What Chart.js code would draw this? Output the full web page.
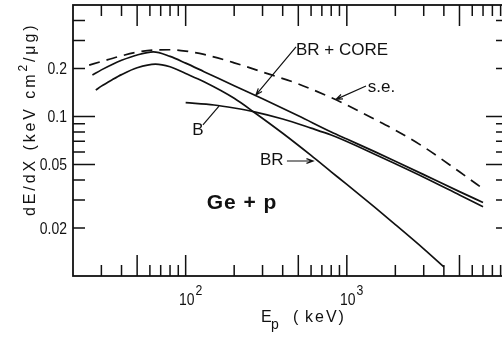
<!DOCTYPE html>
<html>
<head>
<meta charset="utf-8">
<script src="https://cdn.jsdelivr.net/npm/chart.js@4.4.1/dist/chart.umd.min.js"></script>
<style>
  html, body { margin: 0; padding: 0; background: #fff; overflow: hidden; }
  canvas { display: block; }
</style>
</head>
<body>
<canvas id="myChart" width="511" height="337"></canvas>
<script>
// proton energy Ep (keV) and dE/dX (keV cm2/ug) for each curve
const seE = [25.2, 30, 40, 50, 63, 80, 100, 130, 200, 300, 500, 800, 1000, 1500, 2000, 3000, 5000, 7200];
const seS = [0.21, 0.221, 0.24, 0.253, 0.261, 0.262, 0.257, 0.245, 0.217, 0.19, 0.16, 0.1313, 0.118, 0.0957, 0.0821, 0.0644, 0.045, 0.0345];

const brCoreE = [26.4, 30, 35, 40, 50, 63, 80, 100, 130, 200, 300, 500, 800, 1000, 1500, 2000, 3000, 5000, 7000];
const brCoreS = [0.182, 0.196, 0.212, 0.225, 0.243, 0.254, 0.238, 0.216, 0.191, 0.156, 0.129, 0.101, 0.08, 0.0722, 0.06, 0.0524, 0.0432, 0.0338, 0.0289];

const bE = [100, 150, 200, 267, 400, 600, 800, 1000, 1500, 2000, 3000, 5000, 7000];
const bS = [0.122, 0.118, 0.113, 0.107, 0.0965, 0.0845, 0.0765, 0.0697, 0.0578, 0.0505, 0.0416, 0.0322, 0.0272];

const brE = [27.7, 30, 35, 40, 50, 65, 80, 100, 130, 200, 267, 400, 600, 800, 1000, 1500, 2000, 3000, 4000];
const brS = [0.1465, 0.155, 0.17, 0.183, 0.202, 0.213, 0.205, 0.186, 0.165, 0.13, 0.106, 0.0785, 0.057, 0.045, 0.0375, 0.0268, 0.021, 0.0148, 0.0114];

// axis ticks
const xTicks = [30, 40, 50, 60, 70, 80, 90, 100, 200, 300, 400, 500, 600, 700, 800, 900,
                1000, 2000, 3000, 4000, 5000, 6000, 7000, 8000, 9000];
const xLongTicks = [50, 100, 500, 1000, 5000];
const xLabelVals = [100, 1000];
const xLabelExp = ['2', '3'];

const yTicks = [0.4, 0.3, 0.2, 0.1, 0.09, 0.08, 0.07, 0.06, 0.05, 0.04, 0.03, 0.02];
const yLongTicks = [0.1, 0.05];
const yLabelVals = [0.2, 0.1, 0.05, 0.02];
const yLabelText = ['0.2', '0.1', '0.05', '0.02'];

// curve labels: text anchor, leader line start/end (energy, dE/dX)
const notes = [
  { text: 'BR + CORE', at: [484, 0.243], from: [484, 0.273], to: [273, 0.1364], head: true },
  { text: 's.e.', at: [1348, 0.1424], from: [1315, 0.1553], to: [857, 0.128], head: true },
  { text: 'B', at: [110, 0.0766], from: [128, 0.0885], to: [161, 0.116], head: false },
  { text: 'BR', at: [289, 0.0497], from: [425, 0.0526], to: [617, 0.0526], head: true }
];

const pts = (xs, ys) => xs.map((x, i) => ({ x: x, y: ys[i] }));

const INK = '#111';
const SANS = '"Liberation Sans", Arial, sans-serif';

function arrow(ctx, x0, y0, x1, y1, head) {
  ctx.beginPath();
  ctx.moveTo(x0, y0);
  ctx.lineTo(x1, y1);
  if (head) {
    const ang = Math.atan2(y1 - y0, x1 - x0);
    const L = 7, w = 0.35;
    ctx.moveTo(x1 - L * Math.cos(ang - w), y1 - L * Math.sin(ang - w));
    ctx.lineTo(x1, y1);
    ctx.lineTo(x1 - L * Math.cos(ang + w), y1 - L * Math.sin(ang + w));
  }
  ctx.stroke();
}

// condensed digits: squeeze the sans face horizontally
function narrowText(ctx, t, px, py, align) {
  ctx.save();
  ctx.translate(px, py);
  ctx.scale(0.82, 1);
  ctx.textAlign = align;
  ctx.fillText(t, 0, 0);
  const w = ctx.measureText(t).width * 0.82;
  ctx.restore();
  return w;
}

const frame = {
  id: 'frame',
  afterDatasetsDraw(chart) {
    const { ctx, chartArea: a, scales: { x, y } } = chart;
    ctx.save();
    ctx.strokeStyle = INK;
    ctx.fillStyle = INK;
    ctx.lineWidth = 1.8;
    ctx.strokeRect(a.left, a.top, a.right - a.left, a.bottom - a.top);

    // inward ticks on all four sides
    ctx.lineWidth = 1.5;
    ctx.beginPath();
    xTicks.forEach(v => {
      const p = x.getPixelForValue(v);
      const len = xLongTicks.includes(v) ? 21 : 11;
      ctx.moveTo(p, a.bottom); ctx.lineTo(p, a.bottom - len);
      ctx.moveTo(p, a.top); ctx.lineTo(p, a.top + len);
    });
    yTicks.forEach(v => {
      const p = y.getPixelForValue(v);
      const len = yLongTicks.includes(v) ? 22 : 12;
      ctx.moveTo(a.left, p); ctx.lineTo(a.left + len, p);
      ctx.moveTo(a.right, p); ctx.lineTo(a.right - len, p);
    });
    ctx.stroke();

    // tick labels
    ctx.font = '17px ' + SANS;
    ctx.textBaseline = 'middle';
    yLabelVals.forEach((v, i) => {
      narrowText(ctx, yLabelText[i], a.left - 6, y.getPixelForValue(v) + 1, 'right');
    });
    ctx.textBaseline = 'alphabetic';
    xLabelVals.forEach((v, i) => {
      const p = x.getPixelForValue(v);
      ctx.font = '17px ' + SANS;
      const w = narrowText(ctx, '10', p + 1, 305, 'center');
      ctx.font = '15px ' + SANS;
      narrowText(ctx, xLabelExp[i], p + 1 + w / 2 + 1, 295, 'left');
    });

    // axis titles
    ctx.textAlign = 'left';
    ctx.font = '16px ' + SANS;
    ctx.letterSpacing = '1px';
    ctx.fillText('E', 261, 322);
    ctx.font = '14px ' + SANS;
    ctx.fillText('p', 271, 329);
    ctx.font = '16px ' + SANS;
    ctx.letterSpacing = '2px';
    ctx.fillText('(', 293, 322);
    ctx.fillText('keV)', 305, 322);

    ctx.save();
    ctx.translate(35, 216);
    ctx.rotate(-Math.PI / 2);
    ctx.letterSpacing = '2.9px';
    let cx = 0;
    const part = (t, size, dy) => {
      ctx.font = size + 'px ' + SANS;
      ctx.fillText(t, cx, dy);
      cx += ctx.measureText(t).width;
    };
    part('dE/dX (keV cm', 16, 0);
    part('2', 12, -8);
    part('/\u03bcg)', 16, 0);
    ctx.restore();

    // curve labels with leader lines
    ctx.letterSpacing = '0px';
    ctx.font = '17px ' + SANS;
    ctx.lineWidth = 1.2;
    notes.forEach(n => {
      ctx.fillText(n.text, x.getPixelForValue(n.at[0]), y.getPixelForValue(n.at[1]));
      arrow(ctx,
        x.getPixelForValue(n.from[0]), y.getPixelForValue(n.from[1]),
        x.getPixelForValue(n.to[0]), y.getPixelForValue(n.to[1]), n.head);
    });

    // system label
    ctx.font = 'bold 21px ' + SANS;
    ctx.letterSpacing = '1px';
    ctx.fillText('Ge + p', x.getPixelForValue(135), y.getPixelForValue(0.0263));
    ctx.restore();
  }
};

const line = (data, dash) => ({
  data: data,
  showLine: true,
  borderColor: INK,
  borderWidth: 1.7,
  borderDash: dash || [],
  pointRadius: 0,
  cubicInterpolationMode: 'monotone',
  fill: false
});

new Chart('myChart', {
  type: 'scatter',
  data: {
    datasets: [
      line(pts(seE, seS), [11, 7]),
      line(pts(brCoreE, brCoreS)),
      line(pts(bE, bS)),
      line(pts(brE, brS))
    ]
  },
  options: {
    responsive: false,
    animation: false,
    devicePixelRatio: 1,
    layout: { padding: { left: 73, top: 5, right: 3, bottom: 61 } },
    plugins: { legend: { display: false }, tooltip: { enabled: false } },
    scales: {
      x: { type: 'logarithmic', min: 20, max: 10000, display: false },
      y: { type: 'logarithmic', min: 0.01, max: 0.5, display: false }
    }
  },
  plugins: [frame]
});
</script>
</body>
</html>
